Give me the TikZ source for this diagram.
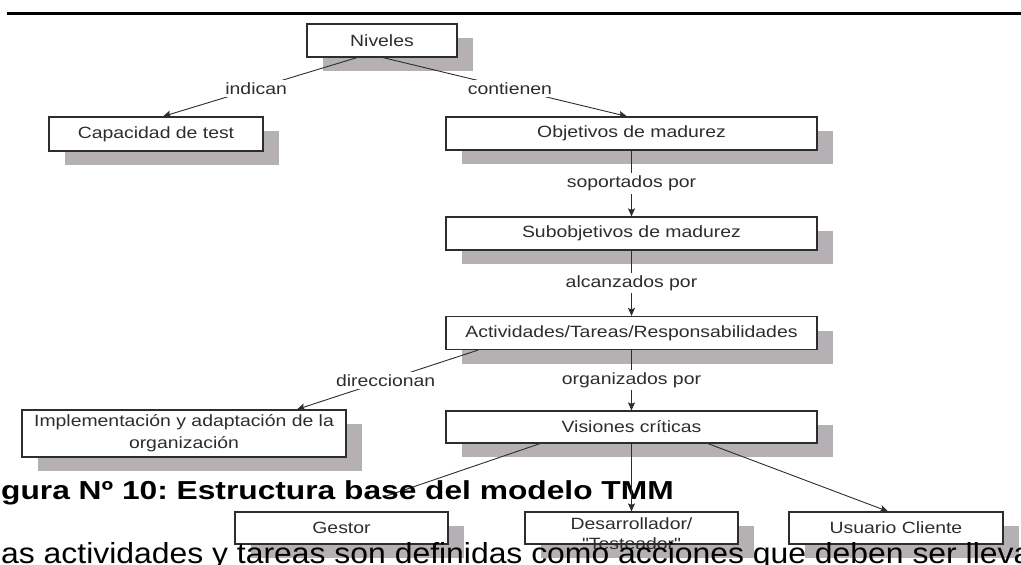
\documentclass[tikz,border=0pt]{standalone}
\usepackage{fontspec}
\setmainfont{Liberation Sans}
\newfontfamily\lblfont[FakeStretch=1.19]{Liberation Sans}
\newfontfamily\capfont[FakeStretch=1.22]{Liberation Sans}
\newfontfamily\bodyfont[FakeStretch=1.1]{Liberation Sans}
\usetikzlibrary{arrows.meta,shadows}
\frenchspacing
\definecolor{shade}{RGB}{180,176,180}
\definecolor{ink}{RGB}{45,45,45}
\tikzset{
  box/.style={draw=ink, line width=1.2pt, fill=white, text=ink, inner sep=0pt, align=center,
    font=\lblfont\fontsize{16.3}{22}\selectfont,
    general shadow={fill=shade, shadow xshift=16pt, shadow yshift=-14pt}},
  link/.style={draw=ink, line width=0.9pt, -{Stealth[length=8pt,width=7pt,inset=1.5pt]}},
  tag/.style={fill=white, text=ink, inner sep=2.5pt, font=\lblfont\fontsize{16.3}{20}\selectfont},
}
\begin{document}
\begin{tikzpicture}[x=1pt,y=-1pt]
    \useasboundingbox (0,0) rectangle (1021,565);
    \draw[line width=3.5pt] (7,13.5) -- (1021,13.5);
    \node[box, minimum width=150pt, minimum height=33pt] (niveles) at (382,40.5) {Niveles};
    \node[box, minimum width=214pt, minimum height=34pt] (capacidad) at (156,134) {Capacidad de test};
    \node[box, minimum width=371pt, minimum height=33pt] (objetivos) at (631.5,133.5) {Objetivos de madurez};
    \node[box, minimum width=371pt, minimum height=33pt] (subobj) at (631.5,233.5) {Subobjetivos de madurez};
    \node[box, minimum width=371pt, minimum height=33pt] (activ) at (631.5,333) {Actividades/Tareas/Responsabilidades};
    \node[box, minimum width=371pt, minimum height=32pt] (visiones) at (631.5,427) {Visiones cr\'iticas};
    \node[box, minimum width=324pt, minimum height=47pt] (impl) at (184,433.5) {Implementaci\'on y adaptaci\'on de la\\organizaci\'on};
    \node[box, minimum width=213pt, minimum height=32pt] (gestor) at (341.5,528) {Gestor};
    \node[box, minimum width=213pt, minimum height=32pt] (desarr) at (631.5,528) {};
    \node[box, minimum width=214pt, minimum height=32pt] (usuario) at (896,528) {Usuario Cliente};
    \node[anchor=base, text=ink, inner sep=0pt, font=\lblfont\fontsize{16.3}{20}\selectfont] (desarrtxt) at (631.5,529) {Desarrollador/};
    \node[anchor=base, text=ink, inner sep=0pt, font=\lblfont\fontsize{16.3}{20}\selectfont] (testtxt) at (631.5,549) {"Testeador"};
    \draw[link] ([xshift=-25pt]niveles.south) -- node[tag, pos=.52] {indican} ([xshift=7pt]capacidad.north);
    \draw[link] ([xshift=1pt]niveles.south) -- node[tag, pos=.52] {contienen} ([xshift=-4.5pt]objetivos.north);
    \draw[link] (objetivos) -- node[tag] {soportados por} (subobj);
    \draw[link] (subobj) -- node[tag] {alcanzados por} (activ);
    \draw[link] ([xshift=-153.5pt]activ.south) -- node[tag, pos=.51] {direccionan} ([xshift=113pt]impl.north);
    \draw[link] (activ) -- node[tag] {organizados por} (visiones);
    \draw[link] ([xshift=-91.5pt]visiones.south) -- (gestor.north);
    \node[anchor=base west, inner sep=0pt, fill=white, text height=3pt, text depth=12pt,
      font=\capfont\bfseries\fontsize{26}{30}\selectfont] (caption) at (1,499) {gura Nº 10: Estructura base del modelo TMM};
    \draw[link] (visiones) -- (desarr);
    \draw[link] ([xshift=76.5pt]visiones.south) -- ([xshift=-8pt]usuario.north);
    \node[anchor=base west, inner sep=0pt, font=\bodyfont\fontsize{29}{34}\selectfont] (body) at (1,563) {as actividades y tareas son definidas como acciones que deben ser lleva};
\end{tikzpicture}
\end{document}
